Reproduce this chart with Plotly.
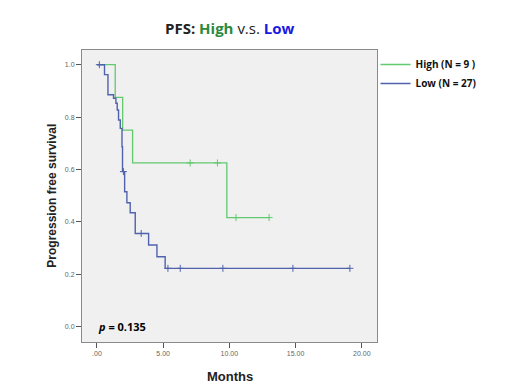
import plotly.graph_objects as go

# ---- data ----
high_time = [0, 1.38, 1.94, 2.69, 9.81, 13.0]
high_surv = [1.0, 0.875, 0.75, 0.625, 0.4167, 0.4167]
high_cens_time = [7.04, 9.1, 10.5, 13.0]
high_cens_surv = [0.625, 0.625, 0.4167, 0.4167]

low_time = [0, 0.57, 0.83, 1.25, 1.43, 1.53, 1.63, 1.76, 1.89, 1.93, 2.09, 2.26, 2.51, 2.89, 3.9, 4.53, 5.15, 19.1]
low_surv = [1.0, 0.962, 0.885, 0.872, 0.853, 0.827, 0.789, 0.757, 0.687, 0.592, 0.515, 0.473, 0.435, 0.356, 0.312, 0.267, 0.223, 0.223]
low_cens_time = [0.18, 2.0, 3.34, 5.36, 6.29, 9.51, 14.8, 19.1]
low_cens_surv = [1.0, 0.592, 0.356, 0.223, 0.223, 0.223, 0.223, 0.223]

x_tick_vals = [0, 5, 10, 15, 20]
x_tick_text = [".00", "5.00", "10.00", "15.00", "20.00"]
y_tick_vals = [0, 0.2, 0.4, 0.6, 0.8, 1.0]
y_tick_text = ["0.0", "0.2", "0.4", "0.6", "0.8", "1.0"]

GREEN = "#62c96e"
BLUE = "#5062ad"

# page body has an 8px margin; plot area in screen px: x 82-377, y 50-342
OFF = 8
W, H = 505 - OFF, 392 - OFF
L, T, PW, PH = 82 - OFF, 50 - OFF, 295, 292


def px(sx):
    return (sx - 82) / PW


def py(sy):
    return (342 - sy) / PH


fig = go.Figure()
fig.add_trace(go.Scatter(x=high_time, y=high_surv, mode="lines", line_shape="hv",
                         line=dict(color=GREEN, width=1.3), name="<b>High (N = 9 )</b>"))
fig.add_trace(go.Scatter(x=low_time, y=low_surv, mode="lines", line_shape="hv",
                         line=dict(color=BLUE, width=1.4), name="<b>Low (N = 27)</b>"))
fig.add_trace(go.Scatter(x=high_cens_time, y=high_cens_surv, mode="markers", showlegend=False,
                         marker=dict(symbol="cross-thin", size=5, line=dict(color=GREEN, width=1))))
fig.add_trace(go.Scatter(x=low_cens_time, y=low_cens_surv, mode="markers", showlegend=False,
                         marker=dict(symbol="cross-thin", size=5, line=dict(color=BLUE, width=1))))

axis_common = dict(showline=True, linecolor="#8a8a8a", linewidth=1, mirror=True,
                   showgrid=False, zeroline=False, ticks="outside", ticklen=5,
                   tickcolor="#555555", tickfont=dict(family="Liberation Sans", size=7, color="#666666"))

fig.update_layout(
    width=W, height=H,
    margin=dict(l=L, r=W - L - PW, t=T, b=H - T - PH),
    paper_bgcolor="white", plot_bgcolor="#f0f0f0",
    xaxis=dict(range=[-1.13, 21.15], tickvals=x_tick_vals, ticktext=x_tick_text, **axis_common),
    yaxis=dict(range=[-0.058, 1.056], tickvals=y_tick_vals, ticktext=y_tick_text, **axis_common),
    legend=dict(x=0.995, y=1.0, xanchor="left", yanchor="top", bgcolor="rgba(0,0,0,0)",
                font=dict(family="Open Sans", size=10, color="#111111"), itemwidth=30,
                tracegroupgap=0),
    showlegend=True,
)

fig.add_annotation(xref="paper", yref="paper", x=px(229.5), y=py(28),
                   text="<b>PFS: <span style='color:#2a8a3e'>High</span></b> v.s. <b><span style='color:#1a1ae0'>Low</span></b>",
                   showarrow=False, font=dict(family="Open Sans", size=15, color="#222222"),
                   xanchor="center", yanchor="middle")
fig.add_annotation(xref="x", yref="y", x=-0.1, y=0.0, text="<b><i>p</i> = 0.135</b>",
                   showarrow=False, xanchor="left", yanchor="middle",
                   font=dict(family="Open Sans", size=11, color="black"))

fig.add_annotation(xref="paper", yref="paper", x=px(51.7), y=py(196),
                   text="<b>Progression free survival</b>", textangle=-90, showarrow=False,
                   font=dict(family="Liberation Sans", size=12, color="#222222"),
                   xanchor="center", yanchor="middle")
fig.add_annotation(xref="paper", yref="paper", x=px(230.5), y=py(376.7),
                   text="<b>Months</b>", showarrow=False,
                   font=dict(family="Liberation Sans", size=13, color="#222222"),
                   xanchor="center", yanchor="middle")

fig.write_html("out.html")
